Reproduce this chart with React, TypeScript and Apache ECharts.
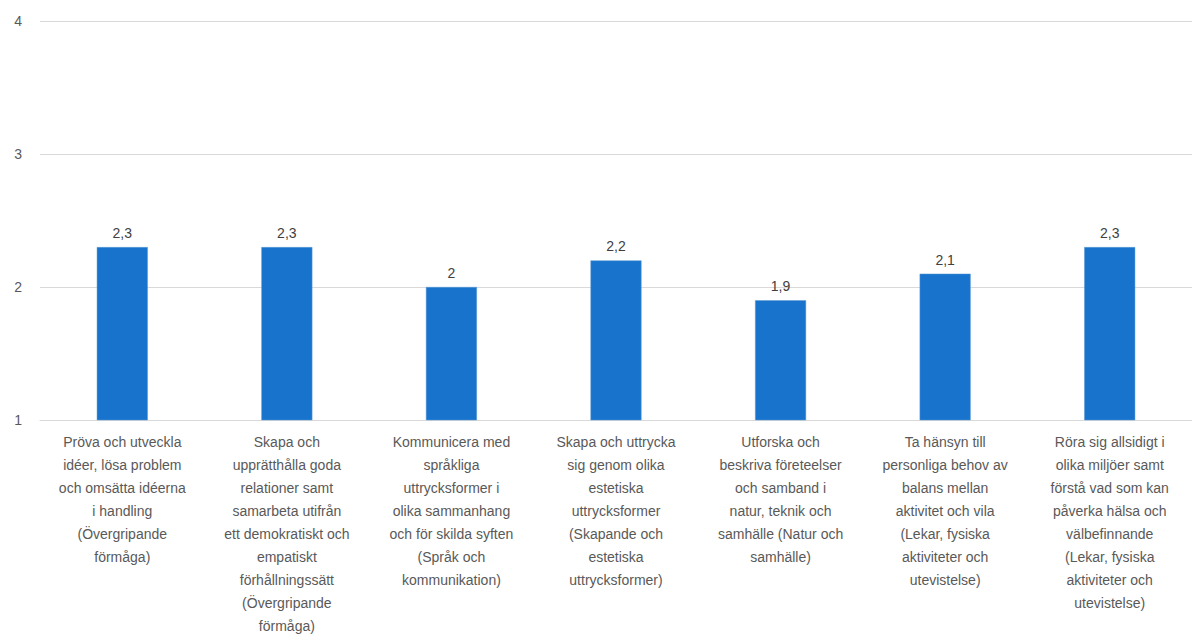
import React, { useEffect, useRef } from "react";
import * as echarts from "echarts";

const categories: string[] = [
  "Pröva och utveckla\nidéer, lösa problem\noch omsätta idéerna\ni handling\n(Övergripande\nförmåga)",
  "Skapa och\nupprätthålla goda\nrelationer samt\nsamarbeta utifrån\nett demokratiskt och\nempatiskt\nförhållningssätt\n(Övergripande\nförmåga)",
  "Kommunicera med\nspråkliga\nuttrycksformer i\nolika sammanhang\noch för skilda syften\n(Språk och\nkommunikation)",
  "Skapa och uttrycka\nsig genom olika\nestetiska\nuttrycksformer\n(Skapande och\nestetiska\nuttrycksformer)",
  "Utforska och\nbeskriva företeelser\noch samband i\nnatur, teknik och\nsamhälle (Natur och\nsamhälle)",
  "Ta hänsyn till\npersonliga behov av\nbalans mellan\naktivitet och vila\n(Lekar, fysiska\naktiviteter och\nutevistelse)",
  "Röra sig allsidigt i\nolika miljöer samt\nförstå vad som kan\npåverka hälsa och\nvälbefinnande\n(Lekar, fysiska\naktiviteter och\nutevistelse)",
];
const values: number[] = [2.3, 2.3, 2.0, 2.2, 1.9, 2.1, 2.3];
const yTicks: number[] = [1, 2, 3, 4];

export default function App() {
  const ref = useRef<HTMLDivElement>(null);
  useEffect(() => {
    if (!ref.current) return;
    const chart = echarts.init(ref.current, undefined, { renderer: "svg" });
    const font = "'Liberation Sans', Arial, sans-serif";
    chart.setOption({
      animation: false,
      grid: { left: 40, right: 0, top: 21, bottom: 221, containLabel: false },
      xAxis: {
        type: "category",
        data: categories,
        axisLine: { show: true, lineStyle: { color: "#d9d9d9", width: 1 } },
        axisTick: { show: false },
        axisLabel: {
          interval: 0,
          color: "#595959",
          fontSize: 14,
          fontFamily: font,
          lineHeight: 23,
          margin: 10,
          align: "center",
        },
      },
      yAxis: {
        type: "value",
        min: yTicks[0],
        max: yTicks[yTicks.length - 1],
        interval: 1,
        axisLine: { show: false },
        axisTick: { show: false },
        splitLine: { lineStyle: { color: "#d9d9d9", width: 1 } },
        axisLabel: {
          color: "#595959",
          fontSize: 14,
          fontFamily: font,
          margin: 18,
        },
      },
      series: [
        {
          type: "bar",
          data: values,
          barWidth: 51,
          itemStyle: { color: "#1873cc", borderColor: "#5b9bd5", borderWidth: 0.5 },
          label: {
            show: true,
            position: "top",
            distance: 7,
            color: "#404040",
            fontSize: 14,
            fontFamily: font,
            formatter: (p: any) => String(p.value).replace(".", ","),
          },
        },
      ],
    });
    return () => chart.dispose();
  }, []);
  return (
    <div
      ref={ref}
      style={{ position: "absolute", left: 0, top: 0, width: 1192, height: 641, background: "#fff" }}
    />
  );
}
